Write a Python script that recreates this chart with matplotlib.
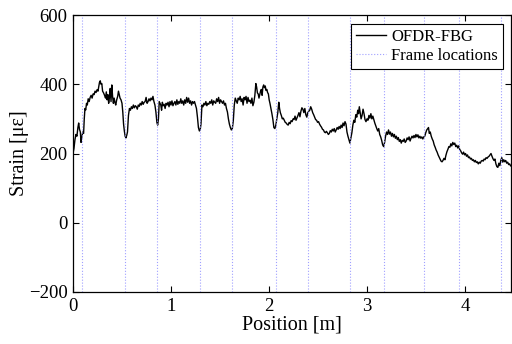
import numpy as np
import matplotlib
matplotlib.use("Agg")
import matplotlib.pyplot as plt

plt.rcParams['font.family'] = ['Liberation Serif', 'DejaVu Serif']

# OFDR-FBG strain profile (position [m], strain [ue])
position = [
    0.000, 0.010, 0.020, 0.030, 0.040, 0.050, 0.058, 0.066, 0.075, 0.082, 0.090, 0.100, 0.108, 0.115, 0.122, 0.130,
    0.138, 0.146, 0.155, 0.165, 0.175, 0.185, 0.195, 0.205, 0.215, 0.225, 0.235, 0.245, 0.255, 0.262, 0.270, 0.278,
    0.286, 0.294, 0.302, 0.312, 0.322, 0.332, 0.340, 0.348, 0.356, 0.364, 0.372, 0.380, 0.388, 0.396, 0.404, 0.412,
    0.420, 0.428, 0.436, 0.446, 0.456, 0.464, 0.472, 0.480, 0.490, 0.500, 0.508, 0.516, 0.524, 0.532, 0.540, 0.548,
    0.556, 0.566, 0.576, 0.586, 0.596, 0.606, 0.616, 0.626, 0.636, 0.646, 0.656, 0.666, 0.676, 0.686, 0.696, 0.706,
    0.716, 0.726, 0.736, 0.746, 0.756, 0.766, 0.776, 0.786, 0.796, 0.806, 0.816, 0.826, 0.836, 0.846, 0.856, 0.864,
    0.872, 0.880, 0.888, 0.896, 0.904, 0.912, 0.920, 0.930, 0.940, 0.950, 0.960, 0.970, 0.980, 0.990, 1.000, 1.010,
    1.020, 1.030, 1.040, 1.050, 1.060, 1.070, 1.080, 1.090, 1.100, 1.110, 1.120, 1.130, 1.140, 1.150, 1.160, 1.170,
    1.180, 1.190, 1.200, 1.210, 1.220, 1.230, 1.240, 1.250, 1.260, 1.270, 1.280, 1.290, 1.298, 1.306, 1.316, 1.326,
    1.336, 1.346, 1.356, 1.366, 1.376, 1.386, 1.396, 1.406, 1.416, 1.426, 1.436, 1.446, 1.456, 1.466, 1.476, 1.486,
    1.496, 1.506, 1.516, 1.526, 1.536, 1.546, 1.556, 1.566, 1.576, 1.586, 1.596, 1.606, 1.616, 1.626, 1.636, 1.646,
    1.656, 1.666, 1.676, 1.686, 1.696, 1.706, 1.716, 1.726, 1.736, 1.746, 1.756, 1.766, 1.776, 1.786, 1.796, 1.806,
    1.816, 1.826, 1.836, 1.846, 1.856, 1.866, 1.874, 1.882, 1.890, 1.898, 1.906, 1.914, 1.922, 1.930, 1.938, 1.946,
    1.954, 1.962, 1.970, 1.978, 1.986, 1.994, 2.002, 2.010, 2.020, 2.030, 2.040, 2.050, 2.060, 2.070, 2.080, 2.090,
    2.100, 2.108, 2.116, 2.126, 2.136, 2.146, 2.156, 2.166, 2.176, 2.186, 2.196, 2.206, 2.216, 2.226, 2.236, 2.246,
    2.256, 2.266, 2.276, 2.286, 2.296, 2.306, 2.316, 2.326, 2.336, 2.346, 2.356, 2.366, 2.376, 2.386, 2.396, 2.406,
    2.416, 2.426, 2.436, 2.446, 2.456, 2.466, 2.476, 2.486, 2.496, 2.506, 2.516, 2.526, 2.536, 2.546, 2.556, 2.566,
    2.576, 2.586, 2.596, 2.606, 2.616, 2.626, 2.636, 2.646, 2.656, 2.666, 2.676, 2.686, 2.696, 2.706, 2.716, 2.726,
    2.736, 2.746, 2.756, 2.766, 2.776, 2.786, 2.796, 2.806, 2.816, 2.826, 2.836, 2.846, 2.856, 2.866, 2.876, 2.886,
    2.896, 2.906, 2.914, 2.922, 2.930, 2.940, 2.950, 2.960, 2.970, 2.980, 2.990, 3.000, 3.010, 3.020, 3.030, 3.040,
    3.050, 3.060, 3.070, 3.080, 3.090, 3.100, 3.110, 3.120, 3.130, 3.140, 3.150, 3.160, 3.170, 3.180, 3.190, 3.200,
    3.210, 3.220, 3.230, 3.240, 3.250, 3.260, 3.270, 3.280, 3.290, 3.300, 3.310, 3.320, 3.330, 3.340, 3.350, 3.360,
    3.370, 3.380, 3.390, 3.400, 3.410, 3.420, 3.430, 3.440, 3.450, 3.460, 3.470, 3.480, 3.490, 3.500, 3.510, 3.520,
    3.530, 3.540, 3.550, 3.560, 3.570, 3.580, 3.590, 3.600, 3.610, 3.620, 3.628, 3.636, 3.646, 3.656, 3.666, 3.676,
    3.686, 3.696, 3.706, 3.716, 3.726, 3.736, 3.746, 3.756, 3.766, 3.776, 3.786, 3.796, 3.806, 3.816, 3.826, 3.836,
    3.846, 3.856, 3.866, 3.876, 3.886, 3.896, 3.906, 3.916, 3.926, 3.936, 3.946, 3.956, 3.966, 3.976, 3.986, 3.996,
    4.006, 4.016, 4.026, 4.036, 4.046, 4.056, 4.066, 4.076, 4.086, 4.096, 4.106, 4.116, 4.126, 4.136, 4.146, 4.156,
    4.166, 4.176, 4.186, 4.196, 4.206, 4.216, 4.226, 4.236, 4.246, 4.256, 4.266, 4.276, 4.286, 4.296, 4.306, 4.316,
    4.326, 4.336, 4.346, 4.356, 4.366, 4.376, 4.386, 4.396, 4.406, 4.416, 4.426, 4.436, 4.446, 4.456, 4.466, 4.476,
]
strain = [
    200, 215, 240, 255, 250, 275, 288, 270, 262, 232, 248, 262, 258, 300, 330, 326,
    345, 340, 358, 350, 362, 368, 360, 372, 370, 380, 376, 384, 380, 392, 405, 410,
    400, 402, 380, 375, 368, 360, 378, 355, 370, 345, 362, 388, 350, 398, 365, 345,
    360, 348, 340, 355, 365, 380, 370, 360, 355, 345, 320, 285, 265, 250, 245, 252,
    262, 310, 330, 325, 335, 330, 340, 332, 338, 335, 328, 340, 336, 345, 340, 350,
    342, 348, 350, 362, 345, 350, 358, 352, 360, 355, 365, 350, 340, 320, 290, 282,
    300, 350, 345, 340, 325, 348, 338, 342, 330, 345, 340, 348, 335, 350, 340, 352,
    338, 345, 350, 340, 355, 342, 350, 345, 358, 345, 352, 340, 355, 345, 362, 348,
    360, 345, 352, 340, 350, 345, 350, 340, 330, 305, 275, 265, 268, 285, 340, 335,
    345, 340, 350, 338, 345, 342, 350, 345, 355, 340, 352, 348, 345, 358, 350, 362,
    345, 355, 350, 345, 352, 340, 345, 330, 320, 300, 285, 275, 268, 272, 295, 340,
    360, 352, 345, 360, 355, 365, 350, 358, 340, 362, 355, 365, 345, 362, 350, 354,
    345, 360, 338, 348, 368, 402, 392, 375, 372, 360, 370, 380, 385, 368, 392, 398,
    390, 395, 382, 385, 376, 372, 355, 345, 330, 315, 298, 275, 272, 282, 300, 318,
    348, 330, 318, 310, 300, 302, 296, 290, 288, 284, 282, 290, 286, 295, 292, 300,
    298, 308, 296, 303, 310, 318, 306, 322, 332, 328, 318, 330, 312, 305, 318, 322,
    325, 335, 328, 318, 312, 305, 298, 296, 290, 292, 285, 280, 276, 270, 268, 262,
    260, 264, 260, 255, 258, 266, 262, 270, 265, 272, 262, 268, 275, 270, 278, 272,
    282, 275, 288, 280, 292, 285, 262, 250, 240, 230, 245, 260, 282, 296, 290, 312,
    305, 325, 315, 335, 320, 300, 310, 328, 315, 298, 292, 300, 296, 310, 302, 315,
    300, 308, 298, 288, 280, 272, 265, 272, 255, 248, 238, 225, 220, 232, 250, 262,
    255, 268, 256, 262, 250, 258, 248, 255, 244, 250, 240, 246, 235, 240, 230, 238,
    235, 242, 232, 236, 245, 240, 248, 236, 244, 250, 245, 252, 246, 255, 248, 254,
    245, 250, 244, 248, 242, 248, 250, 260, 268, 272, 275, 258, 262, 250, 242, 236,
    225, 218, 210, 204, 196, 190, 184, 178, 176, 180, 186, 182, 195, 205, 212, 220,
    218, 228, 222, 232, 226, 230, 220, 224, 216, 222, 212, 208, 202, 198, 204, 196,
    200, 192, 196, 188, 190, 184, 186, 180, 182, 176, 180, 174, 176, 170, 175, 172,
    178, 180, 178, 184, 182, 188, 186, 190, 192, 196, 200, 192, 185, 180, 184, 170,
    162, 160, 172, 165, 180, 188, 175, 182, 176, 180, 172, 175, 168, 170, 164, 166,
]

frame_locations = [0.095, 0.53, 0.86, 1.30, 1.625, 2.075, 2.395, 2.83, 3.17, 3.585, 3.935, 4.37]

fig = plt.figure(figsize=(5.12, 3.44), dpi=100)
ax = fig.add_axes([73 / 512, 52 / 344, 438 / 512, 277 / 344])

ax.plot(position, strain, color='black', lw=1.0, label='OFDR-FBG')
for i, xf in enumerate(frame_locations):
    ax.axvline(xf, color='#a0a0ff', lw=0.8, ls=':',
               label='Frame locations' if i == 0 else None)

ax.set_xlim(0, 4.47)
ax.set_ylim(-200, 600)
ax.set_xticks([0, 1, 2, 3, 4])
ax.set_yticks([-200, 0, 200, 400, 600])
ax.tick_params(direction='in', top=True, right=True, length=4, width=0.8,
               labelsize=13.5, pad=4)
for sp in ax.spines.values():
    sp.set_linewidth(0.9)

ax.set_xlabel('Position [m]', fontsize=14.5, labelpad=1)
ax.set_ylabel('Strain [με]', fontsize=14.5, labelpad=0)

leg = ax.legend(loc='upper right', bbox_to_anchor=(0.982, 0.968), borderaxespad=0,
                fancybox=False, framealpha=1, edgecolor='black', fontsize=12,
                handlelength=1.8, handletextpad=0.3, borderpad=0.3, labelspacing=0.2)
leg.get_frame().set_linewidth(0.8)

fig.savefig('out.png', dpi=100)
